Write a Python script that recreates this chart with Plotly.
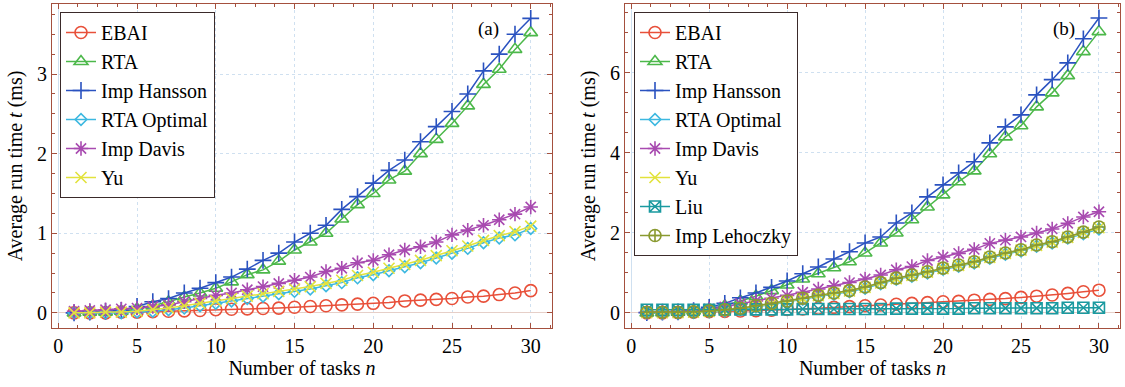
import plotly.graph_objects as go

n = list(range(1, 31))

# Panel (a)
ebai_a = [0.00,0.00,0.00,0.01,0.01,0.015,0.02,0.025,0.03,0.04,0.045,0.05,0.055,0.06,0.07,0.08,0.09,0.10,0.11,0.12,0.13,0.15,0.16,0.17,0.18,0.20,0.21,0.23,0.25,0.28]
rta_a = [0.00,0.01,0.01,0.02,0.05,0.09,0.14,0.20,0.25,0.31,0.39,0.48,0.54,0.65,0.79,0.89,1.00,1.18,1.36,1.50,1.67,1.78,2.00,2.18,2.38,2.60,2.87,3.06,3.31,3.52]
hansson_a = [0.00,0.01,0.02,0.03,0.08,0.14,0.18,0.25,0.31,0.38,0.45,0.55,0.66,0.75,0.89,1.00,1.10,1.30,1.46,1.63,1.79,1.92,2.15,2.34,2.53,2.75,3.04,3.25,3.50,3.70]
rtaopt_a = [0.00,0.00,0.00,0.00,0.01,0.02,0.04,0.06,0.09,0.12,0.15,0.18,0.21,0.24,0.27,0.30,0.34,0.38,0.44,0.48,0.53,0.58,0.63,0.69,0.75,0.81,0.88,0.94,0.98,1.06]
davis_a = [0.02,0.03,0.04,0.05,0.06,0.08,0.10,0.14,0.18,0.22,0.25,0.29,0.33,0.37,0.41,0.45,0.52,0.56,0.63,0.66,0.73,0.79,0.83,0.89,0.98,1.04,1.10,1.17,1.24,1.33]
yu_a = [0.00,0.00,0.01,0.01,0.02,0.04,0.06,0.09,0.12,0.15,0.18,0.21,0.24,0.27,0.30,0.33,0.37,0.41,0.47,0.51,0.56,0.61,0.66,0.72,0.78,0.84,0.91,0.97,1.02,1.09]

# Panel (b)
ebai_b = [0.00,0.00,0.01,0.02,0.03,0.04,0.05,0.06,0.07,0.09,0.10,0.12,0.14,0.16,0.18,0.20,0.22,0.24,0.26,0.28,0.29,0.32,0.34,0.36,0.39,0.42,0.45,0.49,0.53,0.57]
rta_b = [0.00,0.01,0.02,0.05,0.10,0.18,0.30,0.42,0.56,0.70,0.85,0.98,1.13,1.28,1.50,1.75,2.00,2.33,2.65,2.95,3.28,3.55,3.98,4.40,4.68,5.15,5.50,5.93,6.53,7.03]
hansson_b = [0.01,0.02,0.03,0.06,0.14,0.24,0.38,0.50,0.64,0.80,0.98,1.15,1.35,1.53,1.75,1.90,2.25,2.50,2.90,3.20,3.50,3.78,4.25,4.65,4.95,5.45,5.83,6.25,6.85,7.37]
rtaopt_b = [0.00,0.00,0.00,0.01,0.03,0.05,0.09,0.15,0.21,0.27,0.34,0.41,0.47,0.53,0.62,0.73,0.84,0.92,1.00,1.09,1.17,1.25,1.37,1.47,1.55,1.67,1.75,1.87,1.98,2.10]
davis_b = [0.02,0.03,0.04,0.06,0.10,0.15,0.23,0.30,0.37,0.44,0.52,0.60,0.68,0.76,0.85,0.95,1.08,1.16,1.31,1.40,1.49,1.59,1.74,1.82,1.90,2.00,2.10,2.24,2.40,2.53]
yu_b = [0.01,0.01,0.01,0.02,0.04,0.07,0.11,0.17,0.23,0.29,0.36,0.43,0.49,0.55,0.64,0.75,0.86,0.94,1.02,1.11,1.19,1.27,1.39,1.49,1.57,1.69,1.77,1.89,2.01,2.13]
liu_b = [0.08,0.08,0.08,0.08,0.08,0.09,0.09,0.09,0.09,0.09,0.10,0.10,0.10,0.10,0.10,0.10,0.11,0.11,0.11,0.11,0.11,0.12,0.12,0.12,0.12,0.12,0.12,0.13,0.13,0.13]
lehoczky_b = [0.02,0.02,0.02,0.03,0.05,0.08,0.12,0.18,0.24,0.30,0.37,0.44,0.50,0.56,0.65,0.76,0.87,0.95,1.03,1.12,1.20,1.28,1.40,1.50,1.58,1.70,1.78,1.90,2.02,2.15]

FONT = "Liberation Serif, Times New Roman, serif"
styles = {
    "EBAI": ("#e8503a", "circle-open", 12),
    "RTA": ("#4cb84a", "triangle-up-open", 12),
    "Imp Hansson": ("#2a52c0", "cross-thin-open", 12),
    "RTA Optimal": ("#3cb8e0", "diamond-open", 9),
    "Imp Davis": ("#a84ab0", "asterisk-open", 12),
    "Yu": ("#e2e23c", "x-thin-open", 11),
    "Liu": ("#1a9aa0", "square-x-open", 11),
    "Imp Lehoczky": ("#8a9a30", "circle-cross-open", 12),
}

series_a = [("EBAI", ebai_a), ("RTA", rta_a), ("Imp Hansson", hansson_a),
            ("RTA Optimal", rtaopt_a), ("Imp Davis", davis_a), ("Yu", yu_a)]
series_b = [("EBAI", ebai_b), ("RTA", rta_b), ("Imp Hansson", hansson_b),
            ("RTA Optimal", rtaopt_b), ("Imp Davis", davis_b), ("Yu", yu_b),
            ("Liu", liu_b), ("Imp Lehoczky", lehoczky_b)]

fig = go.Figure()
for panel, series, xa, ya, lg in [("a", series_a, "x", "y", "legend"),
                                  ("b", series_b, "x2", "y2", "legend2")]:
    for name, vals in series:
        c, sym, sz = styles[name]
        fig.add_trace(go.Scatter(
            x=n, y=vals, name=name, mode="lines+markers",
            xaxis=xa, yaxis=ya, legend=lg,
            line=dict(color=c, width=1.5),
            marker=dict(symbol=sym, size=sz, color=c, line=dict(color=c, width=1.6)),
        ))

AX = "#a4503e"
GRID = "#cfe0f0"

def xaxis(domain, anchor):
    return dict(domain=domain, anchor=anchor, range=[-0.4, 31.35],
                tickvals=[0, 5, 10, 15, 20, 25, 30], ticks="inside", ticklen=5,
                tickcolor=AX, showline=True, linecolor=AX, linewidth=1.2, mirror="ticks",
                showgrid=True, gridcolor=GRID, griddash="dot", gridwidth=1,
                zeroline=True, zerolinecolor=GRID, zerolinewidth=1,
                minor=dict(ticks="inside", ticklen=3, dtick=1.25, tickcolor=AX, showgrid=False),
                tickfont=dict(family=FONT, size=20, color="black"),
                title=dict(text="Number of tasks <i>n</i>", standoff=0,
                           font=dict(family=FONT, size=20, color="black")))

def yaxis(domain, anchor, rng, dtick, mdt):
    return dict(domain=domain, anchor=anchor, range=rng, dtick=dtick,
                ticks="inside", ticklen=5, tickcolor=AX, showline=True, linecolor=AX,
                linewidth=1.2, mirror="ticks",
                showgrid=True, gridcolor=GRID, griddash="dot", gridwidth=1,
                zeroline=True, zerolinecolor="#e6cfc8", zerolinewidth=1,
                minor=dict(ticks="inside", ticklen=3, dtick=mdt, tickcolor=AX, showgrid=False),
                tickfont=dict(family=FONT, size=20, color="black"),
                title=dict(text="Average run time <i>t</i> (ms)", standoff=8,
                           font=dict(family=FONT, size=20, color="black")))

ydom = [1 - 328 / 387, 1 - 4 / 387]
leg = dict(bgcolor="white", bordercolor="#3a2a2a", borderwidth=1,
           font=dict(family=FONT, size=20, color="black"),
           xanchor="left", yanchor="top", tracegroupgap=0, itemwidth=30)

fig.update_layout(
    width=1125, height=387,
    margin=dict(l=0, r=0, t=0, b=0),
    paper_bgcolor="white", plot_bgcolor="white",
    xaxis=xaxis([52 / 1125, 552 / 1125], "y"),
    yaxis=yaxis(ydom, "x", [-0.19, 3.88], 1, 0.25),
    xaxis2=xaxis([625 / 1125, 1120 / 1125], "y2"),
    yaxis2=yaxis(ydom, "x2", [-0.375, 7.72], 2, 0.5),
    legend=dict(leg, x=60 / 1125, y=1 - 12 / 387),
    legend2=dict(leg, x=634 / 1125, y=1 - 12 / 387),
    annotations=[
        dict(text="(a)", x=488 / 1125, y=1 - 29 / 387, xref="paper", yref="paper",
             xanchor="center", yanchor="middle",
             showarrow=False, font=dict(family=FONT, size=19, color="black")),
        dict(text="(b)", x=1064 / 1125, y=1 - 29 / 387, xref="paper", yref="paper",
             xanchor="center", yanchor="middle",
             showarrow=False, font=dict(family=FONT, size=19, color="black")),
    ],
)

fig.write_html("out.html")
